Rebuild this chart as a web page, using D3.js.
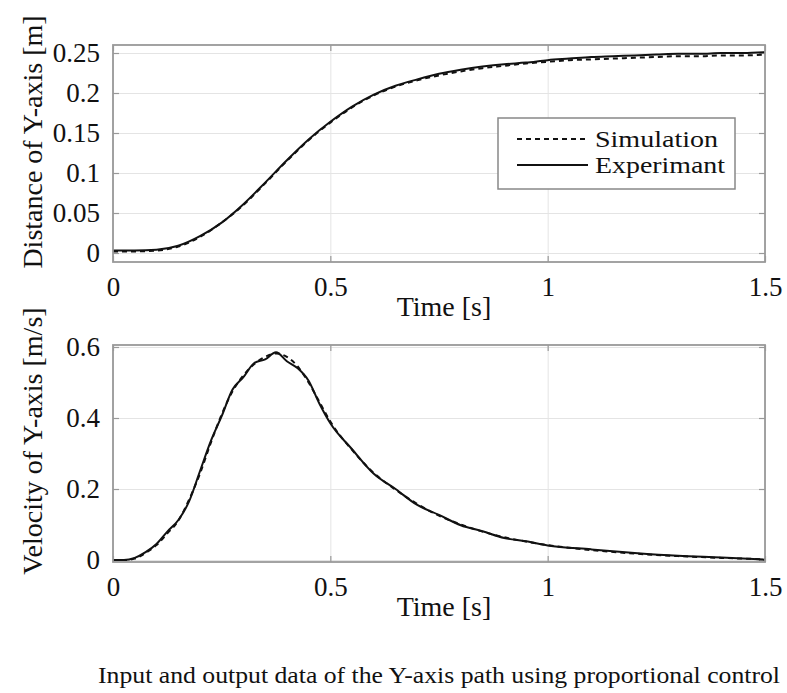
<!DOCTYPE html>
<html>
<head>
<meta charset="utf-8">
<script src="https://cdn.jsdelivr.net/npm/d3@7"></script>
<style>
  body { margin: 0; background: #fff; }
  svg { display: block; font-family: "Liberation Serif", "DejaVu Serif", serif; }
</style>
</head>
<body>
<div id="chart"></div>
<script>
// Distance of Y-axis [m], sampled every 0.05 s
const distTime = [0, 0.05, 0.1, 0.15, 0.2, 0.25, 0.3, 0.35, 0.4, 0.45, 0.5, 0.55, 0.6, 0.65, 0.7, 0.75,
  0.8, 0.85, 0.9, 0.95, 1.0, 1.05, 1.1, 1.15, 1.2, 1.25, 1.3, 1.35, 1.4, 1.45, 1.5];
const distSim = [0.002, 0.002, 0.003, 0.008, 0.02, 0.038, 0.06, 0.087, 0.115, 0.141, 0.163, 0.182, 0.197,
  0.208, 0.216, 0.222, 0.227, 0.231, 0.234, 0.237, 0.239, 0.241, 0.242, 0.243, 0.244, 0.245, 0.246, 0.246,
  0.247, 0.247, 0.248];
const distExp = [0.003, 0.003, 0.004, 0.009, 0.021, 0.038, 0.061, 0.088, 0.116, 0.142, 0.164, 0.183, 0.198,
  0.209, 0.217, 0.224, 0.229, 0.233, 0.236, 0.238, 0.241, 0.243, 0.245, 0.246, 0.247, 0.248, 0.249, 0.249,
  0.25, 0.25, 0.251];

// Velocity of Y-axis [m/s]
const velTime = [0, 0.025, 0.05, 0.075, 0.1, 0.125, 0.15, 0.175, 0.2, 0.225, 0.25, 0.275, 0.3, 0.325, 0.35,
  0.375, 0.4, 0.425, 0.45, 0.475, 0.5, 0.55, 0.6, 0.65, 0.7, 0.75, 0.8, 0.85, 0.9, 0.95, 1.0, 1.1, 1.2, 1.3,
  1.4, 1.5];
const velSim = [0, 0, 0.004, 0.02, 0.042, 0.075, 0.11, 0.17, 0.243, 0.33, 0.41, 0.475, 0.52, 0.552, 0.572,
  0.582, 0.572, 0.545, 0.5, 0.445, 0.39, 0.31, 0.245, 0.198, 0.158, 0.125, 0.1, 0.08, 0.064, 0.052, 0.042,
  0.028, 0.018, 0.011, 0.006, 0.002];
const velExp = [0, 0, 0.006, 0.022, 0.045, 0.08, 0.112, 0.165, 0.25, 0.335, 0.405, 0.48, 0.515, 0.555, 0.565,
  0.585, 0.56, 0.54, 0.505, 0.44, 0.385, 0.312, 0.243, 0.2, 0.155, 0.127, 0.098, 0.081, 0.062, 0.053, 0.041,
  0.03, 0.02, 0.012, 0.007, 0.001];

const xTicks = [0, 0.5, 1, 1.5];
const distTicks = [0, 0.05, 0.1, 0.15, 0.2, 0.25];
const velTicks = [0, 0.2, 0.4, 0.6];
const legendLabels = ["Simulation", "Experimant"];

const svg = d3.select("#chart").append("svg").attr("width", 787).attr("height", 693);

function drawPanel(opts) {
  const { top, bottom, yDomain, yTicks, yLabel, time, sim, exp, labelY } = opts;
  const left = 113, right = 765;

  const x = d3.scaleLinear().domain([0, 1.5]).range([left, right]);
  const y = d3.scaleLinear().domain(yDomain).range([bottom, top]);

  const g = svg.append("g");

  // Grid lines
  g.append("g")
    .attr("transform", `translate(0,${bottom})`)
    .call(d3.axisBottom(x).tickValues(xTicks).tickSize(-(bottom - top)).tickFormat(""))
    .call((a) => a.select(".domain").remove())
    .selectAll("line")
    .attr("stroke", "#e4e4e4")
    .attr("stroke-width", 1);
  g.append("g")
    .attr("transform", `translate(${left},0)`)
    .call(d3.axisLeft(y).tickValues(yTicks).tickSize(-(right - left)).tickFormat(""))
    .call((a) => a.select(".domain").remove())
    .selectAll("line")
    .attr("stroke", "#e4e4e4")
    .attr("stroke-width", 1);

  // Inner tick marks on all four sides
  const tickStyle = (a) => {
    a.select(".domain").remove();
    a.selectAll("line").attr("stroke", "#999").attr("stroke-width", 1.2);
  };
  g.append("g").attr("transform", `translate(0,${bottom})`)
    .call(d3.axisBottom(x).tickValues(xTicks).tickSize(-6).tickFormat("")).call(tickStyle);
  g.append("g").attr("transform", `translate(0,${top})`)
    .call(d3.axisTop(x).tickValues(xTicks).tickSize(-6).tickFormat("")).call(tickStyle);
  g.append("g").attr("transform", `translate(${left},0)`)
    .call(d3.axisLeft(y).tickValues(yTicks).tickSize(-6).tickFormat("")).call(tickStyle);
  g.append("g").attr("transform", `translate(${right},0)`)
    .call(d3.axisRight(y).tickValues(yTicks).tickSize(-6).tickFormat("")).call(tickStyle);

  // Tick labels
  g.append("g")
    .attr("transform", `translate(0,${bottom})`)
    .call(d3.axisBottom(x).tickValues(xTicks).tickSize(0).tickPadding(0).tickFormat((d) => d3.format("")(d)))
    .call((a) => a.select(".domain").remove())
    .selectAll("text")
    .attr("y", 34)
    .attr("dy", 0)
    .attr("font-family", "Liberation Serif")
    .attr("font-size", 27)
    .attr("fill", "#111");
  g.append("g")
    .attr("transform", `translate(${left},0)`)
    .call(d3.axisLeft(y).tickValues(yTicks).tickSize(0).tickPadding(13).tickFormat((d) => d3.format("")(d)))
    .call((a) => a.select(".domain").remove())
    .selectAll("text")
    .attr("font-family", "Liberation Serif")
    .attr("font-size", 27)
    .attr("fill", "#111");

  // Data lines
  const simLine = d3.line().x((d, i) => x(time[i])).y((d) => y(d)).curve(d3.curveMonotoneX);
  const expLine = d3.line().x((d, i) => x(time[i])).y((d) => y(d)).curve(d3.curveMonotoneX);
  g.append("path")
    .attr("d", simLine(sim))
    .attr("fill", "none")
    .attr("stroke", "#111")
    .attr("stroke-width", 2)
    .attr("stroke-dasharray", "5,4");
  g.append("path")
    .attr("d", expLine(exp))
    .attr("fill", "none")
    .attr("stroke", "#111")
    .attr("stroke-width", 2);

  // Frame
  g.append("rect")
    .attr("x", left).attr("y", top)
    .attr("width", right - left).attr("height", bottom - top)
    .attr("fill", "none")
    .attr("stroke", "#999")
    .attr("stroke-width", 1.8);

  // Axis titles
  g.append("text")
    .attr("x", 444).attr("y", bottom + 54)
    .attr("text-anchor", "middle")
    .attr("font-size", 28)
    .attr("fill", "#111")
    .text("Time [s]");
  g.append("text")
    .attr("transform", `translate(42,${labelY}) rotate(-90)`)
    .attr("text-anchor", "middle")
    .attr("font-size", 28)
    .attr("fill", "#111")
    .text(yLabel);

  return { x, y, g };
}

const topPanel = drawPanel({
  top: 45, bottom: 262, yDomain: [-0.01125, 0.26], yTicks: distTicks,
  yLabel: "Distance of Y-axis [m]", time: distTime, sim: distSim, exp: distExp, labelY: 142
});

drawPanel({
  top: 345, bottom: 562, yDomain: [-0.0056, 0.6056], yTicks: velTicks,
  yLabel: "Velocity of Y-axis [m/s]", time: velTime, sim: velSim, exp: velExp, labelY: 441
});

// Legend in the top panel
const legend = topPanel.g.append("g");
legend.append("rect")
  .attr("x", 498).attr("y", 118).attr("width", 237).attr("height", 71)
  .attr("fill", "#fff").attr("stroke", "#888").attr("stroke-width", 1.5);
legendLabels.forEach((label, i) => {
  const ly = 139 + i * 26;
  legend.append("line")
    .attr("x1", 517).attr("x2", 588).attr("y1", ly).attr("y2", ly)
    .attr("stroke", "#111").attr("stroke-width", 2)
    .attr("stroke-dasharray", i === 0 ? "5,4" : null);
  legend.append("text")
    .attr("x", 595).attr("y", ly + 8)
    .attr("font-size", 23)
    .attr("textLength", i === 0 ? 123 : 130)
    .attr("lengthAdjust", "spacingAndGlyphs")
    .attr("fill", "#111")
    .text(label);
});

// Caption
svg.append("text")
  .attr("x", 439).attr("y", 683)
  .attr("text-anchor", "middle")
  .attr("font-size", 23)
  .attr("textLength", 682)
  .attr("lengthAdjust", "spacingAndGlyphs")
  .attr("fill", "#111")
  .text("Input and output data of the Y-axis path using proportional control");
</script>
</body>
</html>
